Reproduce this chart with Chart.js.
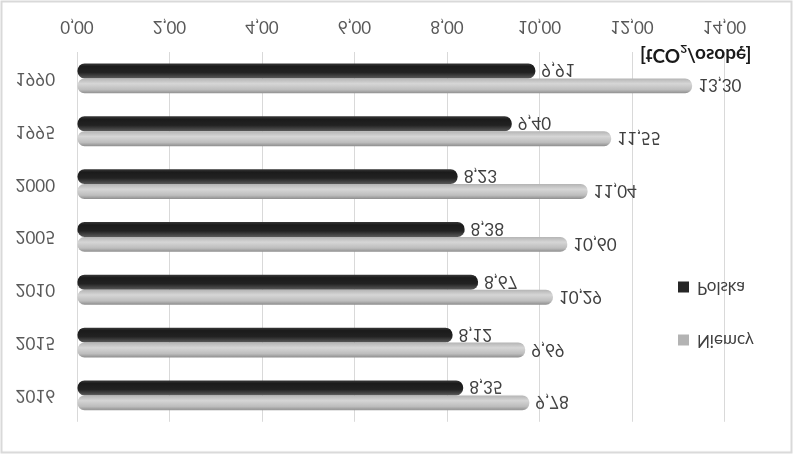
<!DOCTYPE html>
<html><head><meta charset="utf-8">
<script src="https://cdn.jsdelivr.net/npm/chart.js@4.4.0/dist/chart.umd.min.js"></script>
<style>
html,body{margin:0;padding:0;background:#fff;}
#wrap{width:793px;height:454px;position:relative;overflow:hidden;}
#c{transform:scaleY(-1);display:block;}
</style></head><body>
<div id="wrap"><canvas id="c" width="793" height="454"></canvas></div>
<script>
// ---- data ----
const categories = ['1990', '1995', '2000', '2005', '2010', '2015', '2016'];
const polska = [9.91, 9.40, 8.23, 8.38, 8.67, 8.12, 8.35];
const niemcy = [13.30, 11.55, 11.04, 10.60, 10.29, 9.69, 9.78];
const xTicks = [0, 2, 4, 6, 8, 10, 12, 14];
const seriesNames = ['Polska', 'Niemcy'];
const unitParts = ['[tCO', '2', '/osobę]'];

const fmt = v => v.toFixed(2).replace('.', ',');
const FONT = 'Lato, "Liberation Sans", sans-serif';

// cylinder-like shading (canvas coords; the canvas is shown mirrored vertically)
const shades = {
  Polska: [[0, '#5a5a5a'], [0.4, '#222222'], [0.8, '#1b1b1b'], [1, '#383838']],
  Niemcy: [[0, '#8e8e8e'], [0.25, '#bdbdbd'], [0.65, '#d6d6d6'], [1, '#b4b4b4']]
};
const legendColors = { Polska: '#262626', Niemcy: '#b3b3b3' };

const shadePlugin = {
  id: 'shade',
  beforeDatasetsDraw(chart) {
    const ctx = chart.ctx;
    chart.data.datasets.forEach((ds, i) => {
      const meta = chart.getDatasetMeta(i);
      meta.data.forEach(el => {
        const h = el.height;
        const g = ctx.createLinearGradient(0, el.y - h / 2, 0, el.y + h / 2);
        shades[ds.label].forEach(s => g.addColorStop(s[0], s[1]));
        el.options = Object.assign({}, el.options, { backgroundColor: g });
      });
    });
  },
  afterDatasetsDraw(chart) {
    const ctx = chart.ctx;
    ctx.save();
    ctx.font = '17px ' + FONT;
    ctx.fillStyle = '#404040';
    ctx.textAlign = 'left';
    ctx.textBaseline = 'middle';
    chart.data.datasets.forEach((ds, i) => {
      const meta = chart.getDatasetMeta(i);
      meta.data.forEach((el, j) => {
        ctx.fillText(fmt(ds.data[j]), el.x + 6, el.y + 1);
      });
    });
    ctx.restore();
  }
};

const framePlugin = {
  id: 'frame',
  beforeDraw(chart) {
    const ctx = chart.ctx;
    ctx.save();
    ctx.fillStyle = '#ffffff';
    ctx.fillRect(0, 0, chart.width, chart.height);
    ctx.restore();
  },
  afterDraw(chart) {
    const ctx = chart.ctx;
    ctx.save();
    ctx.strokeStyle = '#d9d9d9';
    ctx.lineWidth = 2;
    ctx.strokeRect(1.5, 1.5, chart.width - 3, chart.height - 3);
    // legend (custom placement, overlapping the plot like the original)
    const items = [['Niemcy', 114], ['Polska', 167]];
    ctx.font = '17px ' + FONT;
    ctx.textBaseline = 'middle';
    ctx.textAlign = 'left';
    items.forEach(([name, y]) => {
      ctx.fillStyle = legendColors[name];
      ctx.fillRect(678, y - 5.5, 11, 11);
      ctx.fillStyle = '#404040';
      ctx.fillText(name, 697, y);
    });
    // unit label
    let x = 640;
    const y = 399;
    ctx.fillStyle = '#1a1a1a';
    ctx.font = 'bold 19px ' + FONT;
    ctx.fillText(unitParts[0], x, y);
    x += ctx.measureText(unitParts[0]).width;
    ctx.font = 'bold 12px ' + FONT;
    ctx.fillText(unitParts[1], x, y + 6);
    x += ctx.measureText(unitParts[1]).width;
    ctx.font = 'bold 19px ' + FONT;
    ctx.fillText(unitParts[2], x, y);
    ctx.restore();
  }
};

new Chart(document.getElementById('c'), {
  type: 'bar',
  data: {
    labels: categories,
    datasets: [
      { label: seriesNames[1], data: niemcy, backgroundColor: ctx => '#bdbdbd',
        borderRadius: 7, borderSkipped: false },
      { label: seriesNames[0], data: polska, backgroundColor: ctx => '#222222',
        borderRadius: 7, borderSkipped: false }
    ]
  },
  options: {
    indexAxis: 'y',
    responsive: false,
    animation: false,
    devicePixelRatio: 1,
    layout: { padding: { left: 0, right: 68.5, top: 30, bottom: 0 } },
    datasets: { bar: { barPercentage: 1, categoryPercentage: 0.565 } },
    plugins: { legend: { display: false }, tooltip: { enabled: false } },
    scales: {
      x: {
        min: 0, max: 14,
        afterBuildTicks: s => { s.ticks = xTicks.map(v => ({ value: v })); },
        afterFit: s => { s.height = 52; },
        grid: { color: '#d9d9d9', lineWidth: 1, drawTicks: false },
        border: { display: false },
        ticks: { padding: 15, color: '#595959', font: { size: 17, family: FONT },
                 callback: v => fmt(v), maxRotation: 0 }
      },
      y: {
        reverse: true,
        afterFit: s => { s.width = 77; },
        grid: { display: false, drawTicks: false },
        border: { display: false },
        ticks: { padding: 22, color: '#595959', font: { size: 17, family: FONT } }
      }
    }
  },
  plugins: [shadePlugin, framePlugin]
});
</script>
</body></html>
